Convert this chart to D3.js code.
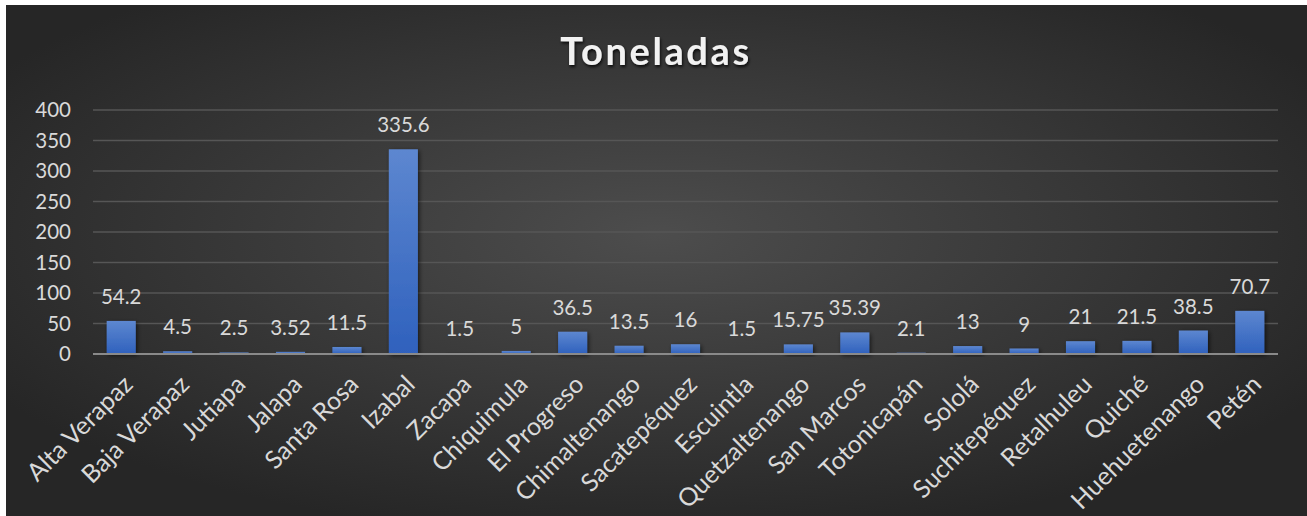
<!DOCTYPE html>
<html>
<head>
<meta charset="utf-8">
<script src="https://cdn.jsdelivr.net/npm/d3@7"></script>
<style>
  html, body { margin: 0; padding: 0; background: #ffffff; }
  svg { display: block; }
</style>
</head>
<body>
<script>
const categories = ["Alta Verapaz","Baja Verapaz","Jutiapa","Jalapa","Santa Rosa","Izabal","Zacapa","Chiquimula","El Progreso","Chimaltenango","Sacatepéquez","Escuintla","Quetzaltenango","San Marcos","Totonicapán","Sololá","Suchitepéquez","Retalhuleu","Quiché","Huehuetenango","Petén"];
const values = [54.2, 4.5, 2.5, 3.52, 11.5, 335.6, 1.5, 5, 36.5, 13.5, 16, 1.5, 15.75, 35.39, 2.1, 13, 9, 21, 21.5, 38.5, 70.7];
const valueLabels = ["54.2","4.5","2.5","3.52","11.5","335.6","1.5","5","36.5","13.5","16","1.5","15.75","35.39","2.1","13","9","21","21.5","38.5","70.7"];
const yTicks = [0, 50, 100, 150, 200, 250, 300, 350, 400];
const title = "Toneladas";

const W = 1307, H = 516;
const margin = {left: 93, right: 29, top: 110, bottom: 162};
const font = "Lato, 'Open Sans', sans-serif";
const textColor = "#d9d9d9";

const svg = d3.select("body").append("svg").attr("width", W).attr("height", H);
const defs = svg.append("defs");

const bg = defs.append("radialGradient").attr("id", "bg")
  .attr("cx", "50%").attr("cy", "45%").attr("r", "60%");
bg.append("stop").attr("offset", "0%").attr("stop-color", "#4d4d4d");
bg.append("stop").attr("offset", "100%").attr("stop-color", "#262626");

const barGrad = defs.append("linearGradient").attr("id", "bar")
  .attr("x1", 0).attr("y1", 0).attr("x2", 0).attr("y2", 1);
barGrad.append("stop").attr("offset", "0%").attr("stop-color", "#5d87d0");
barGrad.append("stop").attr("offset", "100%").attr("stop-color", "#2f61bd");

const shadow = defs.append("filter").attr("id", "shadow")
  .attr("x", "-30%").attr("y", "-30%").attr("width", "160%").attr("height", "160%");
shadow.append("feDropShadow").attr("dx", 1.5).attr("dy", 1.5).attr("stdDeviation", 2)
  .attr("flood-color", "#000").attr("flood-opacity", 0.6);

const tshadow = defs.append("filter").attr("id", "tshadow")
  .attr("x", "-10%").attr("y", "-30%").attr("width", "120%").attr("height", "160%");
tshadow.append("feDropShadow").attr("dx", 1).attr("dy", 2).attr("stdDeviation", 1.5)
  .attr("flood-color", "#000").attr("flood-opacity", 0.8);

svg.append("rect").attr("x", 6).attr("y", 5).attr("width", W - 6).attr("height", H - 5)
  .attr("fill", "url(#bg)");

const x = d3.scaleBand().domain(categories)
  .range([margin.left, W - margin.right]).paddingInner(0.485).paddingOuter(0.2425);
const y = d3.scaleLinear().domain([0, 400]).range([H - margin.bottom, margin.top]);

// gridlines
svg.append("g").selectAll("line").data(yTicks.filter(d => d > 0)).join("line")
  .attr("x1", margin.left).attr("x2", W - margin.right)
  .attr("y1", d => y(d)).attr("y2", d => y(d))
  .attr("stroke", "#565656").attr("stroke-width", 1.5);

// y axis labels
const yAxis = d3.axisLeft(y).tickValues(yTicks).tickSize(0).tickPadding(0);
const ya = svg.append("g").attr("transform", `translate(${margin.left - 22},0)`).call(yAxis);
ya.select(".domain").remove();
ya.selectAll("text").attr("font-family", font).attr("font-size", 20.5)
  .attr("fill", textColor);

// bars
svg.append("g").selectAll("rect").data(values).join("rect")
  .attr("x", (d, i) => x(categories[i]))
  .attr("width", x.bandwidth())
  .attr("y", d => y(d))
  .attr("height", d => y(0) - y(d))
  .attr("fill", "url(#bar)")
  .attr("filter", "url(#shadow)");

// x axis baseline
svg.append("line").attr("x1", margin.left).attr("x2", W - margin.right)
  .attr("y1", y(0)).attr("y2", y(0)).attr("stroke", "#8a8a8a").attr("stroke-width", 2);

// data labels
svg.append("g").selectAll("text").data(values).join("text")
  .attr("x", (d, i) => x(categories[i]) + x.bandwidth() / 2)
  .attr("y", d => y(d) - 17)
  .attr("text-anchor", "middle")
  .attr("font-family", font).attr("font-size", 20.5)
  .attr("fill", textColor)
  .text((d, i) => valueLabels[i]);

// x axis labels
const xAxis = d3.axisBottom(x).tickSize(0).tickPadding(0);
const xa = svg.append("g").attr("transform", `translate(0,${y(0)})`).call(xAxis);
xa.select(".domain").remove();
xa.selectAll("text")
  .attr("font-family", font).attr("font-size", 25).attr("fill", textColor)
  .attr("text-anchor", "end")
  .attr("dy", null).attr("y", null)
  .attr("transform", "translate(13,32) rotate(-45)");

// title
svg.append("text").attr("x", 656).attr("y", 65)
  .attr("text-anchor", "middle")
  .attr("font-family", font).attr("font-size", 38).attr("font-weight", "bold")
  .attr("letter-spacing", 2.6)
  .attr("fill", "#f2f2f2").attr("filter", "url(#tshadow)")
  .text(title);
</script>
</body>
</html>
